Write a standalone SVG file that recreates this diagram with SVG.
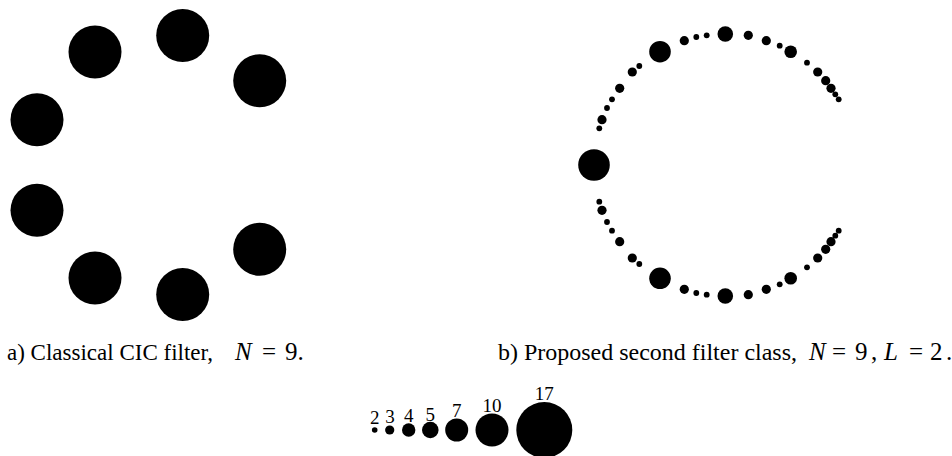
<svg xmlns="http://www.w3.org/2000/svg" width="952" height="456" viewBox="0 0 952 456">
<style>
circle{fill:#000}
text{font-family:"Liberation Serif","Times New Roman",serif;fill:#000}
.cap{font-size:23px}
.m{font-size:25px}
.i{font-style:italic}
.lg{font-size:19px;text-anchor:middle}
</style>
<rect width="952" height="456" fill="#fff"/>
<g id="ring-a">
<circle cx="95" cy="52" r="26.5"/>
<circle cx="182.7" cy="35.5" r="26.5"/>
<circle cx="259.7" cy="80.7" r="26.5"/>
<circle cx="37" cy="119.7" r="26.5"/>
<circle cx="37" cy="210.3" r="26.5"/>
<circle cx="95" cy="278" r="26.5"/>
<circle cx="182.7" cy="294.5" r="26.5"/>
<circle cx="259.7" cy="249.3" r="26.5"/>
</g>
<g id="ring-b">
<circle cx="594" cy="165" r="15.8"/>
<circle cx="599.3" cy="128.3" r="2.9"/>
<circle cx="602" cy="119.7" r="4.6"/>
<circle cx="607" cy="108" r="2.9"/>
<circle cx="612" cy="99.3" r="2.9"/>
<circle cx="619.7" cy="88.3" r="4.6"/>
<circle cx="632.3" cy="72" r="4.6"/>
<circle cx="639.3" cy="66" r="2.9"/>
<circle cx="660" cy="51.7" r="10.8"/>
<circle cx="684.3" cy="40.7" r="4.6"/>
<circle cx="696.3" cy="37" r="2.9"/>
<circle cx="706.7" cy="35.3" r="2.9"/>
<circle cx="725.3" cy="34" r="7.8"/>
<circle cx="748.3" cy="35.3" r="4.6"/>
<circle cx="766.3" cy="40.7" r="4.6"/>
<circle cx="779.7" cy="45.7" r="2.9"/>
<circle cx="790.7" cy="51.7" r="6.3"/>
<circle cx="807" cy="62.7" r="2.9"/>
<circle cx="817.7" cy="72" r="4.6"/>
<circle cx="825.7" cy="80.7" r="4.6"/>
<circle cx="831" cy="88.3" r="4.6"/>
<circle cx="835.3" cy="94.3" r="2.9"/>
<circle cx="838.7" cy="99.3" r="2.9"/>
<circle cx="599.3" cy="201.7" r="2.9"/>
<circle cx="602" cy="210.3" r="4.6"/>
<circle cx="607" cy="222" r="2.9"/>
<circle cx="612" cy="230.7" r="2.9"/>
<circle cx="619.7" cy="241.7" r="4.6"/>
<circle cx="632.3" cy="258" r="4.6"/>
<circle cx="639.3" cy="264" r="2.9"/>
<circle cx="660" cy="278.3" r="10.8"/>
<circle cx="684.3" cy="289.3" r="4.6"/>
<circle cx="696.3" cy="293" r="2.9"/>
<circle cx="706.7" cy="294.7" r="2.9"/>
<circle cx="725.3" cy="296" r="7.8"/>
<circle cx="748.3" cy="294.7" r="4.6"/>
<circle cx="766.3" cy="289.3" r="4.6"/>
<circle cx="779.7" cy="284.3" r="2.9"/>
<circle cx="790.7" cy="278.3" r="6.3"/>
<circle cx="807" cy="267.3" r="2.9"/>
<circle cx="817.7" cy="258" r="4.6"/>
<circle cx="825.7" cy="249.3" r="4.6"/>
<circle cx="831" cy="241.7" r="4.6"/>
<circle cx="835.3" cy="235.7" r="2.9"/>
<circle cx="838.7" cy="230.7" r="2.9"/>
</g>
<g id="caption-a">
<text class="cap" x="7" y="360" textLength="206" lengthAdjust="spacingAndGlyphs">a) Classical CIC filter,</text>
<text class="m i" x="235" y="360">N</text>
<text class="m" x="262" y="360">=</text>
<text class="m" x="285" y="360">9.</text>
</g>
<g id="caption-b">
<text class="cap" x="498" y="360" textLength="299" lengthAdjust="spacingAndGlyphs">b) Proposed second filter class,</text>
<text class="m i" x="809" y="360">N</text>
<text class="m" x="832" y="360">=</text>
<text class="m" x="855" y="360">9</text>
<text class="m" x="871" y="360">,</text>
<text class="m i" x="884" y="360">L</text>
<text class="m" x="909" y="360">=</text>
<text class="m" x="930" y="360">2</text>
<text class="m" x="946" y="360">.</text>
</g>
<g id="legend">
<circle cx="374.7" cy="430" r="2.8"/>
<circle cx="389.7" cy="430" r="4.6"/>
<circle cx="408.7" cy="430" r="6.7"/>
<circle cx="430.3" cy="430" r="8.3"/>
<circle cx="456.7" cy="430" r="11.5"/>
<circle cx="492" cy="430" r="16.5"/>
<circle cx="544.3" cy="430" r="28"/>
<text class="lg" x="374.7" y="423.5">2</text>
<text class="lg" x="390" y="422.5">3</text>
<text class="lg" x="408.7" y="422">4</text>
<text class="lg" x="430.3" y="420.5">5</text>
<text class="lg" x="456.7" y="417">7</text>
<text class="lg" x="492" y="412">10</text>
<text class="lg" x="544.3" y="400">17</text>
</g>
</svg>
